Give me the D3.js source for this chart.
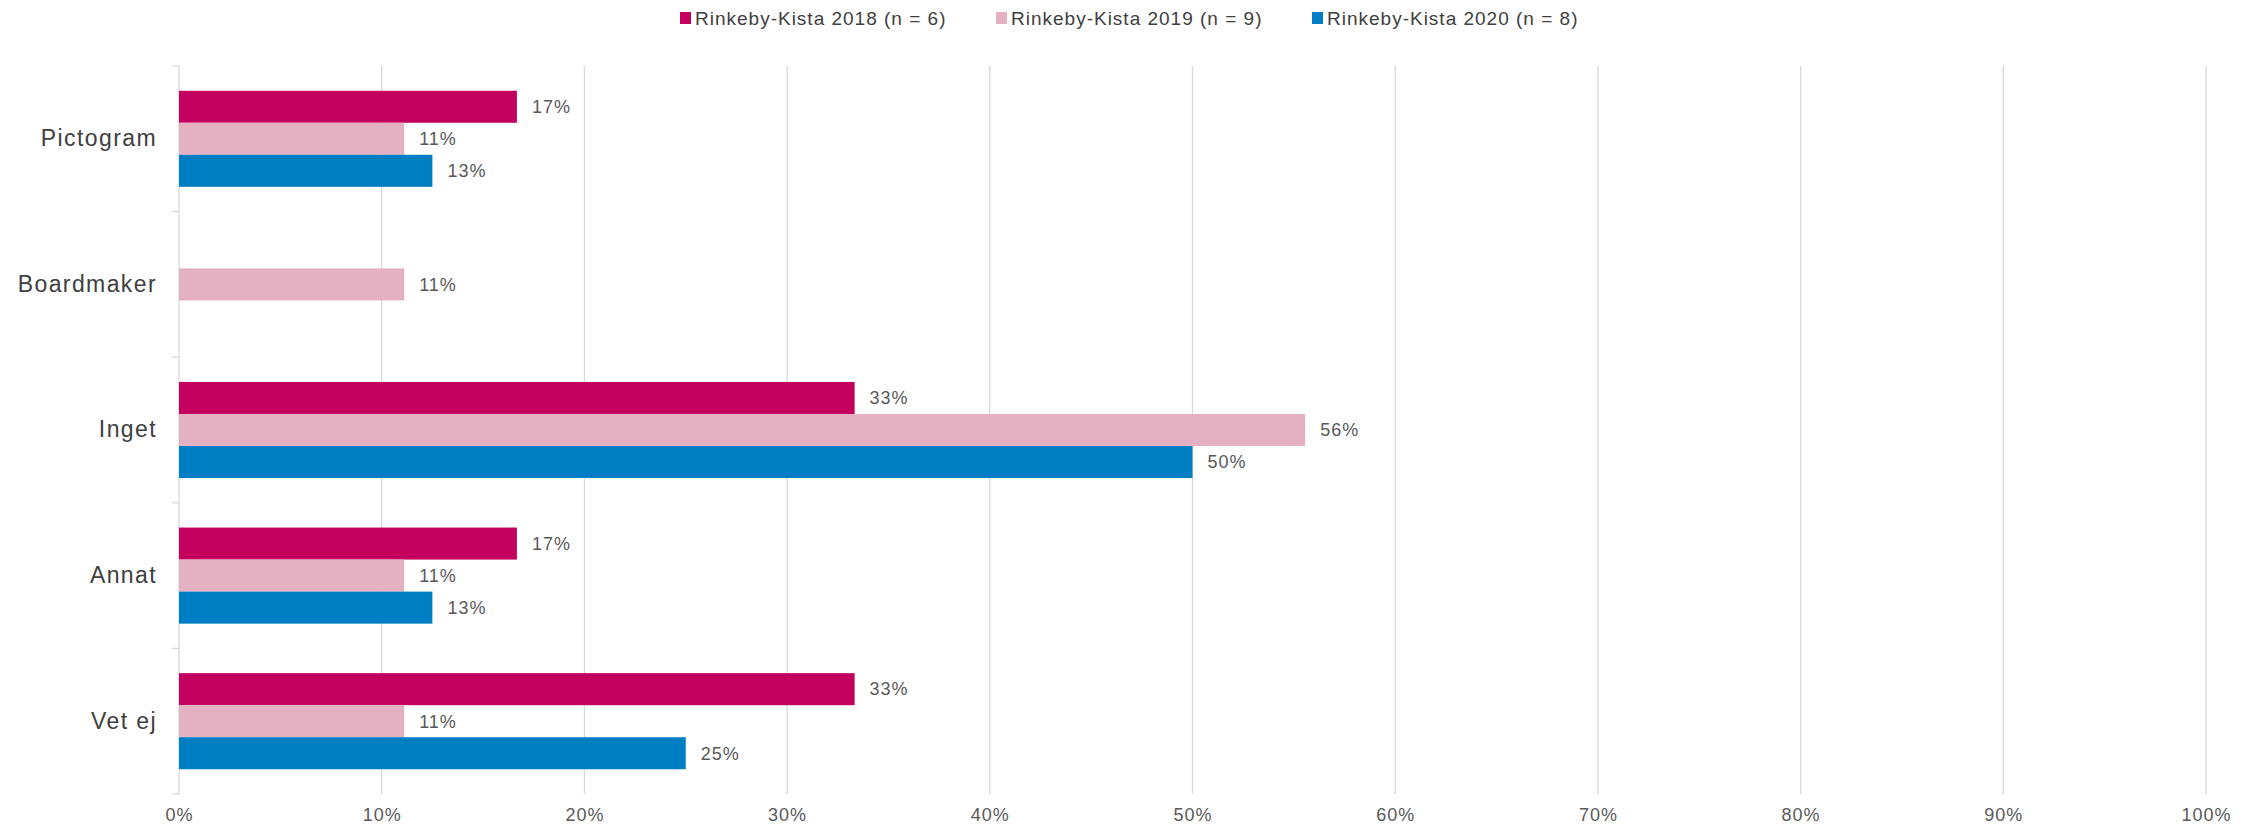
<!DOCTYPE html>
<html>
<head>
<meta charset="utf-8">
<script src="https://cdn.jsdelivr.net/npm/d3@7"></script>
<style>
  body { margin: 0; background: #fff; }
  text { font-family: "Liberation Sans", Arial, sans-serif; }
</style>
</head>
<body>
<div id="chart"></div>
<script>
"use strict";

// Categories and series (shares of respondents)
var categories = ["Pictogram", "Boardmaker", "Inget", "Annat", "Vet ej"];
var seriesNames = ["Rinkeby-Kista 2018 (n = 6)", "Rinkeby-Kista 2019 (n = 9)", "Rinkeby-Kista 2020 (n = 8)"];
var values2018 = [0.1667, 0, 0.3333, 0.1667, 0.3333];
var values2019 = [0.1111, 0.1111, 0.5556, 0.1111, 0.1111];
var values2020 = [0.125, 0, 0.5, 0.125, 0.25];
var xTicks = [0, 0.1, 0.2, 0.3, 0.4, 0.5, 0.6, 0.7, 0.8, 0.9, 1.0];
var colors = ["#c4005f", "#e4b1c2", "#007ec4"];

var W = 2254, H = 827;
var margin = { top: 66, right: 48, bottom: 33, left: 179 };
var width = W - margin.left - margin.right;
var height = H - margin.top - margin.bottom;

var svg = d3.select("#chart").append("svg")
    .attr("width", W)
    .attr("height", H);

var g = svg.append("g")
    .attr("transform", "translate(" + margin.left + "," + margin.top + ")");

// Scales
var xScale = d3.scaleLinear().domain([0, 1]).range([0, width]);
var yScale = d3.scaleBand().domain(categories).range([0, height])
    .paddingInner(0.34).paddingOuter(0.17);
var ySub = d3.scaleBand().domain(d3.range(seriesNames.length)).range([0, yScale.bandwidth()]);

// Gridlines
g.selectAll(".grid")
    .data(xTicks)
    .enter().append("line")
    .attr("x1", function (d) { return xScale(d); })
    .attr("x2", function (d) { return xScale(d); })
    .attr("y1", 0)
    .attr("y2", height)
    .attr("stroke", "#d9d9d9")
    .attr("stroke-width", 1.3);

// Category boundary ticks on the y axis
var step = yScale.step();
g.selectAll(".ytick")
    .data(d3.range(categories.length + 1))
    .enter().append("line")
    .attr("x1", -7)
    .attr("x2", 0)
    .attr("y1", function (i) { return i * step; })
    .attr("y2", function (i) { return i * step; })
    .attr("stroke", "#d9d9d9")
    .attr("stroke-width", 1.3);

// X axis labels
var xAxis = d3.axisBottom(xScale)
    .tickValues(xTicks)
    .tickSize(0)
    .tickPadding(14)
    .tickFormat(d3.format(".0%"));

var xg = g.append("g")
    .attr("transform", "translate(0," + height + ")")
    .call(xAxis);
xg.select(".domain").remove();
xg.selectAll("text")
    .attr("fill", "#595959")
    .style("font-size", "18px")
    .style("letter-spacing", "1px");

// Y axis labels
var yAxis = d3.axisLeft(yScale).tickSize(0).tickPadding(22);
var yg = g.append("g").call(yAxis);
yg.select(".domain").remove();
yg.selectAll("text")
    .attr("fill", "#404040")
    .style("font-size", "23px")
    .style("letter-spacing", "1.4px");

// Bars
var allSeries = [values2018, values2019, values2020];
var fmt = d3.format(".0%");

allSeries.forEach(function (vals, si) {
    var data = categories.map(function (c, i) { return { cat: c, v: vals[i] }; });

    g.selectAll(".bar-" + si)
        .data(data.filter(function (d) { return d.v > 0; }))
        .enter().append("rect")
        .attr("class", "bar-" + si)
        .attr("x", xScale(0))
        .attr("y", function (d) { return yScale(d.cat) + ySub(si); })
        .attr("width", function (d) { return xScale(d.v) - xScale(0); })
        .attr("height", ySub.bandwidth())
        .attr("fill", colors[si]);

    g.selectAll(".lbl-" + si)
        .data(data.filter(function (d) { return d.v > 0; }))
        .enter().append("text")
        .attr("class", "lbl-" + si)
        .attr("x", function (d) { return xScale(d.v) + 15; })
        .attr("y", function (d) { return yScale(d.cat) + ySub(si) + ySub.bandwidth() / 2; })
        .attr("dy", "0.35em")
        .attr("fill", "#595959")
        .style("font-size", "18px")
        .style("letter-spacing", "1px")
        .text(function (d) { return fmt(d.v); });
});

// Legend
var legendX = [680, 996, 1312];
var legend = svg.selectAll(".legend")
    .data(seriesNames)
    .enter().append("g")
    .attr("transform", function (d, i) { return "translate(" + legendX[i] + ",18)"; });

legend.append("rect")
    .attr("x", 0)
    .attr("y", -6)
    .attr("width", 11)
    .attr("height", 12)
    .attr("fill", function (d, i) { return colors[i]; });

legend.append("text")
    .attr("x", 15)
    .attr("y", 0)
    .attr("dy", "0.35em")
    .attr("fill", "#404040")
    .style("font-size", "19px")
    .style("letter-spacing", "1px")
    .text(function (d) { return d; });
</script>
</body>
</html>
